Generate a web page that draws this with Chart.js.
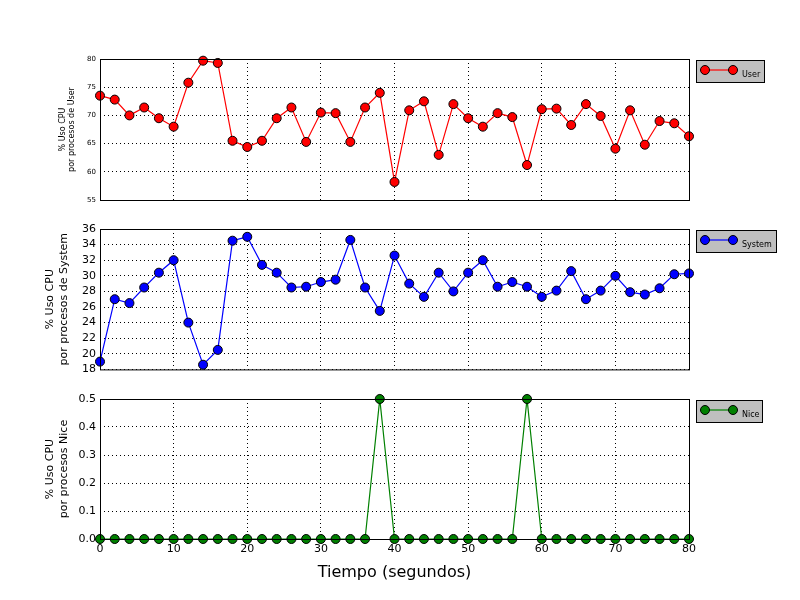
<!DOCTYPE html>
<html><head><meta charset="utf-8">
<script src="https://cdn.jsdelivr.net/npm/chart.js@4"></script>
<style>
body{margin:0;background:#fff;width:800px;height:600px;position:relative;overflow:hidden}
.c{position:absolute;left:0;width:800px}
</style></head><body>
<div class="c" style="top:0;height:210px"><canvas id="cUser"></canvas></div>
<div class="c" style="top:210px;height:170px"><canvas id="cSystem"></canvas></div>
<div class="c" style="top:380px;height:220px"><canvas id="cNice"></canvas></div>
<script>
const tiempo = [0,2,4,6,8,10,12,14,16,18,20,22,24,26,28,30,32,34,36,38,40,42,44,46,48,50,52,54,56,58,60,62,64,66,68,70,72,74,76,78,80];
const userVals = [73.5,72.8,70,71.4,69.5,68,75.8,79.7,79.3,65.5,64.4,65.5,69.5,71.4,65.3,70.5,70.4,65.3,71.4,74,58.2,70.9,72.5,63,72,69.5,68,70.4,69.7,61.2,71.1,71.2,68.3,72,69.9,64.1,70.9,64.8,69,68.6,66.3];
const systemVals = [19,27,26.5,28.5,30.4,32,24,18.6,20.5,34.5,35,31.4,30.4,28.5,28.6,29.2,29.5,34.6,28.5,25.5,32.6,29,27.3,30.4,28,30.4,32,28.6,29.2,28.6,27.3,28.1,30.6,27,28.1,30,27.9,27.6,28.4,30.2,30.3];
const niceVals = [0,0,0,0,0,0,0,0,0,0,0,0,0,0,0,0,0,0,0,0.5,0,0,0,0,0,0,0,0,0,0.5,0,0,0,0,0,0,0,0,0,0,0];

const framePlugin = {
  id: 'frame',
  afterDraw(chart, args, opts) {
    const {ctx, chartArea: a} = chart;
    ctx.save();
    ctx.strokeStyle = '#000'; ctx.lineWidth = 1;
    ctx.strokeRect(a.left + 0.5, a.top + 0.5, a.right - a.left, a.bottom - a.top);
    // legend box
    const lx = a.right + 7, ly = a.top + 1, lw = opts.w, lh = 22;
    ctx.fillStyle = '#bfbfbf';
    ctx.fillRect(lx, ly, lw, lh);
    ctx.strokeRect(lx + 0.5, ly + 0.5, lw, lh);
    const c = chart.data.datasets[0].borderColor;
    ctx.strokeStyle = c; ctx.lineWidth = 1.2;
    ctx.beginPath(); ctx.moveTo(lx + 9, ly + 10); ctx.lineTo(lx + 37, ly + 10); ctx.stroke();
    ctx.fillStyle = c; ctx.strokeStyle = '#000'; ctx.lineWidth = 1;
    [lx + 9, lx + 37].forEach(px => { ctx.beginPath(); ctx.arc(px, ly + 10, 4.5, 0, Math.PI * 2); ctx.fill(); ctx.stroke(); });
    ctx.fillStyle = '#000'; ctx.font = '8px "DejaVu Sans"'; ctx.textBaseline = 'alphabetic';
    ctx.fillText(chart.data.datasets[0].label, lx + 46, ly + 17);
    ctx.restore();
  }
};

function makeChart(id, label, vals, color, yMin, yMax, step, dec, titleLines, tickSize, titleSize, padTop, padLeft, showX, legendW) {
  return new Chart(document.getElementById(id), {
    type: 'line',
    data: { datasets: [{
      label: label,
      data: tiempo.map((t, i) => ({x: t, y: vals[i]})),
      borderColor: color, backgroundColor: color,
      pointBorderColor: '#000', pointBorderWidth: 1,
      pointRadius: 4.5, borderWidth: 1.2, clip: false
    }]},
    options: {
      responsive: true, maintainAspectRatio: false, animation: false,
      layout: { padding: { top: padTop, right: 111, left: padLeft, bottom: showX ? 14 : 0 } },
      plugins: { legend: { display: false }, tooltip: { enabled: false }, frame: { w: legendW } },
      scales: {
        x: {
          type: 'linear', min: 0, max: 80,
          ticks: { display: showX, stepSize: 10, color: '#000', font: { size: 11, family: 'DejaVu Sans' }, padding: 4 },
          grid: { color: '#000', drawTicks: false },
          border: { display: false, dash: [1, 3] },
          title: { display: showX, text: 'Tiempo (segundos)', color: '#000', font: { size: 16, family: 'DejaVu Sans' }, padding: { top: 6 } },
          afterFit: s => { s.height = showX ? 47 : 10; }
        },
        y: {
          min: yMin, max: yMax,
          ticks: { stepSize: step, autoSkip: false, color: '#000', font: { size: tickSize, family: 'DejaVu Sans' }, padding: 4,
                   callback: v => v.toFixed(dec) },
          grid: { color: '#000', drawTicks: false },
          border: { display: false, dash: [1, 3] },
          title: { display: true, text: titleLines, color: '#000', font: { size: titleSize, family: 'DejaVu Sans' }, padding: { top: 0, bottom: 4 } },
          afterFit: s => { s.width = 100 - padLeft; }
        }
      }
    },
    plugins: [framePlugin]
  });
}

makeChart('cUser', 'User', userVals, '#ff0000', 55, 80, 5, 0, ['% Uso CPU', 'por procesos de User'], 7, 8, 59, 58, false, 68);
makeChart('cSystem', 'System', systemVals, '#0000ff', 18, 36, 2, 0, ['% Uso CPU', 'por procesos de System'], 11, 11, 19, 44, false, 80);
makeChart('cNice', 'Nice', niceVals, '#008000', 0, 0.5, 0.1, 1, ['% Uso CPU', 'por procesos Nice'], 11, 11, 19, 44, true, 66);
</script>
</body></html>
